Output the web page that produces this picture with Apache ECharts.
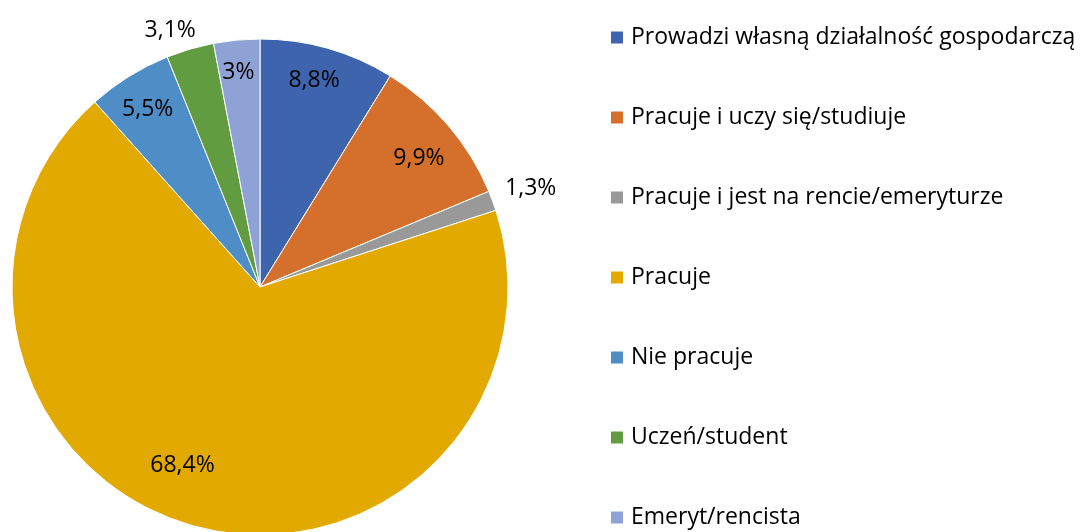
<!DOCTYPE html>
<html><head><meta charset="utf-8">
<script src="https://cdn.jsdelivr.net/npm/echarts@6/dist/echarts.min.js"></script>
<style>html,body{margin:0;padding:0;background:#fff}#c{width:1083px;height:532px}</style>
</head><body><div id="c"></div>
<script>
var categories = ['Prowadzi własną działalność gospodarczą','Pracuje i uczy się/studiuje','Pracuje i jest na rencie/emeryturze','Pracuje','Nie pracuje','Uczeń/student','Emeryt/rencista'];
var values = [8.8, 9.9, 1.3, 68.4, 5.5, 3.1, 3];
var labels = ['8,8%','9,9%','1,3%','68,4%','5,5%','3,1%','3%'];
var colors = ['#3D64AD','#D56F2C','#999999','#E2AA00','#4E8DC5','#629C41','#8FA2D5'];
var outsideIdx = [2, 5];

var FONT = '"Open Sans", sans-serif';
var FS = 23;
var chart = echarts.init(document.getElementById('c'));
var mainData = values.map(function(v,i){
  var isOut = outsideIdx.indexOf(i) >= 0;
  return {value:v, name:categories[i], itemStyle:{color:colors[i]},
    label:{show:isOut}, labelLine:{show:false}};
});
var overlayData = values.map(function(v,i){
  var isOut = outsideIdx.indexOf(i) >= 0;
  return {value:v, name:categories[i], itemStyle:{color:'rgba(0,0,0,0)'},
    label:{show:!isOut}};
});
var shifts = {0:[-3,-5], 1:[0,7], 3:[-23,-23], 4:[-2,0], 6:[-2,-6]};
chart.setOption({
  animation:false,
  legend:{
    orient:'vertical', left:604, top:21, height:640, itemWidth:14, itemHeight:14, itemGap:57,
    icon:'rect', selectedMode:false,
    textStyle:{fontFamily:FONT, fontSize:FS, color:'#000', lineHeight:23, padding:[0,0,0,2]},
    data: categories.map(function(n,i){return {name:n, itemStyle:{color:colors[i]}};})
  },
  series:[{
    type:'pie', center:[260,287], radius:[0,248], startAngle:90, clockwise:true,
    data: mainData, silent:true,
    itemStyle:{borderColor:'#fff', borderWidth:1},
    label:{position:'outside', fontFamily:FONT, fontSize:FS, color:'#000',
      formatter:function(p){return labels[p.dataIndex];}},
    labelLine:{show:false, length:8, length2:0},
    labelLayout:function(p){
      if(p.dataIndex===5) return {dx:13, dy:-11};
      if(p.dataIndex===2) return {dx:0, dy:-10};
      return {};
    }
  },{
    type:'pie', center:[260,287], radius:[0,412], startAngle:90, clockwise:true,
    data: overlayData, silent:true, z:3,
    label:{position:'inside', fontFamily:FONT, fontSize:FS, color:'#000',
      formatter:function(p){return labels[p.dataIndex];}},
    labelLine:{show:false},
    labelLayout:function(p){
      var s = shifts[p.dataIndex];
      return s ? {dx:s[0], dy:s[1]} : {};
    }
  }]
});
</script></body></html>
